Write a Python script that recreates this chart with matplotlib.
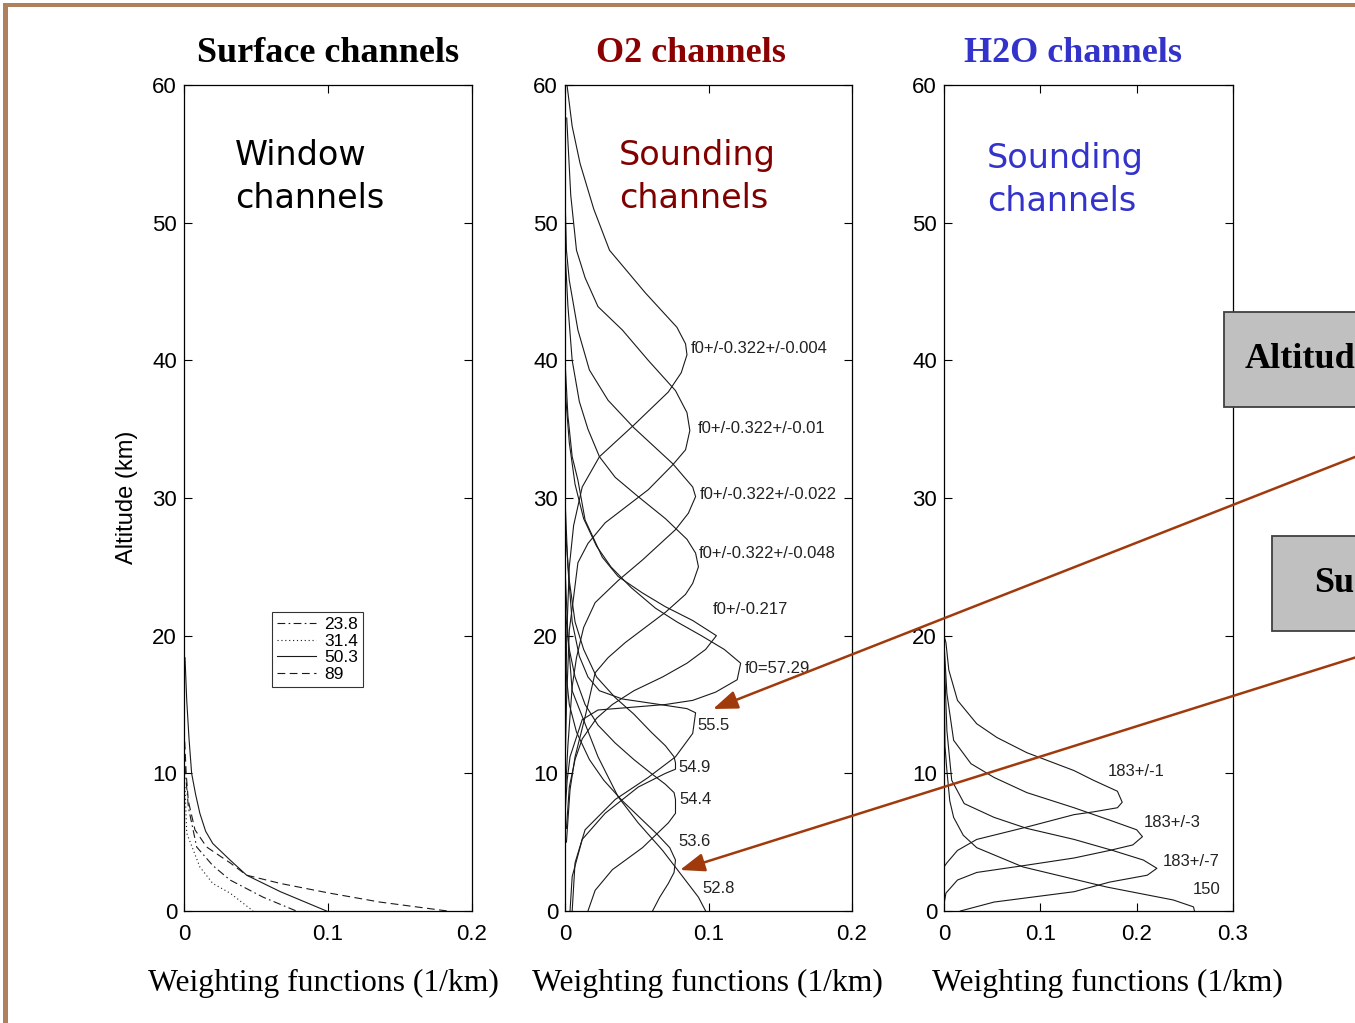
import matplotlib
matplotlib.use('Agg')
import matplotlib.pyplot as plt
from matplotlib.patches import Rectangle, FancyArrowPatch
from matplotlib.lines import Line2D

plt.rcParams['font.family'] = ['Liberation Sans', 'DejaVu Sans']

# ---------------- data ----------------
# Panel 1: surface (window) channels
surf_labels = ['23.8', '31.4', '50.3', '89']
surf_styles = [(0, (7, 3, 1.5, 3)), (0, (1, 2.5)), '-', (0, (7, 4))]
z_238 = [10.5, 7.55, 4.65, 3.3, 2.25, 1.0, 0.0]
w_238 = [0.0007, 0.003, 0.0088, 0.020, 0.032, 0.055, 0.078]
z_314 = [9.0, 5.65, 3.2, 2.0, 1.3, 0.0]
w_314 = [0.0007, 0.0019, 0.011, 0.020, 0.032, 0.048]
z_503 = [18.4, 15.3, 12.5, 10.0, 8.5, 7.1, 5.8, 4.9, 3.7, 2.6, 1.4, 0.0]
w_503 = [0.0007, 0.0019, 0.0035, 0.0053, 0.008, 0.011, 0.015, 0.020, 0.032, 0.0435, 0.067, 0.099]
z_89 = [12.3, 10.0, 8.0, 5.9, 4.65, 3.5, 2.6, 2.0, 1.3, 0.65, 0.0]
w_89 = [0.0005, 0.0015, 0.003, 0.0076, 0.0157, 0.032, 0.0435, 0.067, 0.101, 0.136, 0.183]

# Panel 2: O2 sounding channels
o2_labels = ['f0+/-0.322+/-0.004', 'f0+/-0.322+/-0.01', 'f0+/-0.322+/-0.022',
             'f0+/-0.322+/-0.048', 'f0+/-0.217', 'f0=57.29', '55.5', '54.9',
             '54.4', '53.6', '52.8']
o2_label_x = [0.0874, 0.0923, 0.0937, 0.0930, 0.1028, 0.1252, 0.0923, 0.0790, 0.0797, 0.0790, 0.0958]
o2_label_z = [40.87, 35.03, 30.24, 25.95, 21.9, 17.63, 13.49, 10.46, 8.13, 5.08, 1.6]

z_f004 = [60, 57, 54.3, 51, 48, 44.9, 42.4, 41.2, 40.4, 39.1, 37.7, 35.3, 33, 30.8, 28, 25, 20, 14, 9]
w_f004 = [0.0014, 0.005, 0.0105, 0.020, 0.031, 0.056, 0.078, 0.084, 0.085, 0.081, 0.072, 0.048,
          0.024, 0.012, 0.006, 0.003, 0.0012, 0.0004, 0.0]
z_f010 = [57.6, 52, 48, 46, 43.9, 42.2, 40, 37.8, 36.2, 34.9, 33.5, 32.4, 30.6, 28.2, 26.7, 25.3,
          22.8, 20.4, 15, 10]
w_f010 = [0.0012, 0.004, 0.008, 0.014, 0.023, 0.040, 0.058, 0.077, 0.085, 0.087, 0.084, 0.075,
          0.058, 0.028, 0.016, 0.009, 0.006, 0.003, 0.001, 0.0]
z_f022 = [52, 48, 45.8, 42.2, 39.3, 37.1, 35.1, 32.5, 30.8, 30.1, 28.9, 27.7, 25.5, 24.0, 22.4,
          20.6, 18.4, 16.3, 12, 8]
w_f022 = [0.0, 0.001, 0.003, 0.009, 0.017, 0.030, 0.048, 0.075, 0.089, 0.091, 0.086, 0.077,
          0.054, 0.037, 0.021, 0.013, 0.008, 0.005, 0.002, 0.0]
z_f048 = [48, 44, 40, 37, 35, 33, 31.5, 30.1, 28.5, 27, 26, 25.0, 23.8, 23.0, 21.7, 19.5, 18.4,
          17.3, 14.1, 11.2, 8.8, 5]
w_f048 = [0.0, 0.002, 0.005, 0.010, 0.016, 0.024, 0.035, 0.051, 0.070, 0.085, 0.091, 0.093,
          0.089, 0.084, 0.070, 0.042, 0.030, 0.021, 0.014, 0.007, 0.0035, 0.001]
z_f217 = [40, 36, 33, 31.3, 28.4, 25.7, 24.3, 23.1, 22.1, 21.1, 20.0, 19.0, 18.0, 17.0, 16.0,
          15.0, 14.0, 12.5, 11.0, 9.0, 6.0]
w_f217 = [0.0, 0.002, 0.005, 0.009, 0.014, 0.026, 0.037, 0.054, 0.070, 0.089, 0.1055, 0.098,
          0.085, 0.068, 0.048, 0.033, 0.022, 0.012, 0.007, 0.003, 0.001]
z_f5729 = [38, 34, 31, 28.5, 26.5, 25, 23.5, 22, 21, 20, 19, 18.0, 16.8, 15.9, 15.3, 15.0, 14.6,
           13.9, 11.2, 9.5, 7]
w_f5729 = [0.0, 0.003, 0.007, 0.013, 0.022, 0.032, 0.046, 0.063, 0.078, 0.095, 0.111, 0.1224,
           0.120, 0.105, 0.089, 0.070, 0.023, 0.012, 0.0035, 0.0015, 0.0]
z_f555 = [30, 25, 21, 18.5, 17, 16, 15.4, 15.0, 14.7, 14.4, 12.9, 11.2, 9.7, 8.1, 5.9, 3.5, 0]
w_f555 = [0.0, 0.002, 0.005, 0.010, 0.016, 0.024, 0.040, 0.066, 0.085, 0.091, 0.089, 0.077,
          0.058, 0.035, 0.014, 0.007, 0.005]
z_f549 = [28, 24, 21, 19, 17, 15.5, 14.3, 13.0, 12.0, 11.2, 10.75, 10.3, 10.0, 9.0, 7.1, 5.2, 2.5, 0]
w_f549 = [0.0, 0.003, 0.007, 0.013, 0.022, 0.035, 0.048, 0.060, 0.070, 0.076, 0.077, 0.077,
          0.070, 0.051, 0.028, 0.012, 0.005, 0.0035]
z_f544 = [22, 19, 17, 15, 13.5, 12.2, 11, 10, 9.2, 8.6, 8.1, 7.1, 6.4, 4.6, 3.0, 1.5, 0]
w_f544 = [0.0, 0.003, 0.007, 0.014, 0.023, 0.035, 0.048, 0.060, 0.070, 0.076, 0.077, 0.077,
          0.072, 0.054, 0.033, 0.021, 0.016]
z_f536 = [18, 15, 13, 11, 9.5, 8, 6.8, 5.6, 4.6, 3.7, 2.8, 2.0, 1.0, 0]
w_f536 = [0.0, 0.003, 0.008, 0.017, 0.027, 0.040, 0.052, 0.064, 0.073, 0.077, 0.076, 0.072,
          0.066, 0.061]
z_f528 = [25, 20, 16, 13.6, 11.2, 8.3, 6.4, 4.4, 2.5, 1.0, 0]
w_f528 = [0.0, 0.002, 0.005, 0.014, 0.023, 0.037, 0.051, 0.068, 0.082, 0.093, 0.098]

# Panel 3: H2O channels
h2o_labels = ['183+/-1', '183+/-3', '183+/-7', '150']
h2o_label_x = [0.170, 0.207, 0.227, 0.258]
h2o_label_z = [10.1, 6.46, 3.56, 1.53]
z_h1 = [20, 19.5, 17.5, 15.3, 13.6, 12.6, 11.5, 10.2, 9.5, 8.7, 7.9, 7.5, 7.2, 7.0, 6.1, 5.2, 4.4, 3.5, 3.2]
w_h1 = [0.0, 0.002, 0.005, 0.014, 0.034, 0.055, 0.086, 0.135, 0.155, 0.180, 0.185, 0.180, 0.155,
        0.135, 0.086, 0.034, 0.014, 0.003, 0.0]
z_h3 = [19.5, 15.8, 12.4, 10.7, 9.7, 8.6, 7.5, 6.6, 5.9, 5.4, 4.8, 4.4, 3.85, 3.3, 2.8, 2.25, 1.3, 0.5]
w_h3 = [0.0, 0.003, 0.010, 0.028, 0.052, 0.086, 0.135, 0.172, 0.200, 0.206, 0.196, 0.172, 0.135,
        0.083, 0.034, 0.014, 0.002, 0.0]
z_h7 = [19, 13.1, 9.5, 7.8, 6.8, 6.0, 5.2, 4.4, 3.7, 3.1, 2.6, 2.1, 1.4, 0.65, 0.0]
w_h7 = [0.0, 0.003, 0.008, 0.021, 0.052, 0.086, 0.135, 0.175, 0.207, 0.221, 0.211, 0.172, 0.135,
        0.052, 0.017]
z_h150 = [18.5, 12, 10.2, 8, 6.8, 5.5, 4.6, 3.2, 1.74, 0.8, 0.3, 0.0]
w_h150 = [0.0, 0.001, 0.003, 0.006, 0.010, 0.020, 0.034, 0.082, 0.169, 0.238, 0.259, 0.260]

# ---------------- figure ----------------
W, H = 1355, 1023
fig = plt.figure(figsize=(W / 100, H / 100), dpi=100)
fig.patch.set_facecolor('white')

def ax_rect(l, r, t=85, b=911):
    return [l / W, 1 - b / H, (r - l) / W, (b - t) / H]

def style(ax, xmax, xticks, xlabels):
    ax.set_xlim(0, xmax)
    ax.set_ylim(0, 60)
    ax.set_xticks(xticks)
    ax.set_xticklabels(xlabels)
    ax.set_yticks(range(0, 61, 10))
    ax.tick_params(direction='in', length=6, width=0.8, top=True, right=True, labelsize=16)
    ax.tick_params(axis='x', pad=9)
    ax.tick_params(axis='y', pad=5)
    for s in ax.spines.values():
        s.set_linewidth(0.9)

LC = '#1a1a1a'
LW = 0.8

ax1 = fig.add_axes(ax_rect(184, 472))
ax2 = fig.add_axes(ax_rect(565, 852))
ax3 = fig.add_axes(ax_rect(944, 1233))
style(ax1, 0.2, [0, 0.1, 0.2], ['0', '0.1', '0.2'])
style(ax2, 0.2, [0, 0.1, 0.2], ['0', '0.1', '0.2'])
style(ax3, 0.3, [0, 0.1, 0.2, 0.3], ['0', '0.1', '0.2', '0.3'])

# panel 1
surf_w = [w_238, w_314, w_503, w_89]
surf_z = [z_238, z_314, z_503, z_89]
handles = []
for w, z, ls, lab in zip(surf_w, surf_z, surf_styles, surf_labels):
    ax1.plot(w, z, linestyle=ls, color=LC, lw=LW, label=lab)
    handles.append(Line2D([], [], linestyle=ls, color=LC, lw=LW))
leg = ax1.legend(handles, surf_labels, loc='upper left', bbox_to_anchor=(0.306, 0.362),
                 frameon=True, fancybox=False, edgecolor='black', fontsize=12.5,
                 handlelength=2.2, borderpad=0.3, labelspacing=0.08, handletextpad=0.5,
                 borderaxespad=0)
leg.get_frame().set_linewidth(0.8)

# panel 2
o2_w = [w_f004, w_f010, w_f022, w_f048, w_f217, w_f5729, w_f555, w_f549, w_f544, w_f536, w_f528]
o2_z = [z_f004, z_f010, z_f022, z_f048, z_f217, z_f5729, z_f555, z_f549, z_f544, z_f536, z_f528]
for w, z in zip(o2_w, o2_z):
    ax2.plot(w, z, '-', color=LC, lw=LW)
for x, z, lab in zip(o2_label_x, o2_label_z, o2_labels):
    ax2.text(x, z, lab, fontsize=12, ha='left', va='center', color='#222222')

# panel 3
h2o_w = [w_h1, w_h3, w_h7, w_h150]
h2o_z = [z_h1, z_h3, z_h7, z_h150]
for w, z in zip(h2o_w, h2o_z):
    ax3.plot(w, z, '-', color=LC, lw=LW)
for x, z, lab in zip(h2o_label_x, h2o_label_z, h2o_labels):
    ax3.text(x, z, lab, fontsize=12, ha='left', va='center', color='#222222')

# titles / labels
serif = ['Liberation Serif', 'DejaVu Serif']
fig.text(328 / W, 1 - 53 / H, 'Surface channels', ha='center', va='center', fontsize=26,
         weight='bold', family=serif, color='black')
fig.text(691 / W, 1 - 53 / H, 'O2 channels', ha='center', va='center', fontsize=26,
         weight='bold', family=serif, color='#8B0000')
fig.text(1073 / W, 1 - 53 / H, 'H2O channels', ha='center', va='center', fontsize=26,
         weight='bold', family=serif, color='#3333CC')
for cx in [323, 707, 1107]:
    fig.text(cx / W, 1 - 983 / H, 'Weighting functions (1/km)', ha='center', va='center',
             fontsize=22.8, family=serif)
fig.text(127 / W, 1 - 497 / H, 'Altitude (km)', rotation=90, ha='center', va='center', fontsize=17)

sans = ['DejaVu Sans']
fig.text(235 / W, 1 - 139 / H, 'Window\nchannels', ha='left', va='top', fontsize=24,
         family=sans, color='black', linespacing=1.38)
fig.text(619 / W, 1 - 139 / H, 'Sounding\nchannels', ha='left', va='top', fontsize=24,
         family=sans, color='#800000', linespacing=1.38)
fig.text(987 / W, 1 - 142 / H, 'Sounding\nchannels', ha='left', va='top', fontsize=24,
         family=sans, color='#3333CC', linespacing=1.38)

# overlay: border, boxes, arrows
ov = fig.add_axes([0, 0, 1, 1], zorder=10)
ov.set_xlim(0, W)
ov.set_ylim(H, 0)
ov.axis('off')
brown = '#B0805E'
ov.add_patch(Rectangle((3, 3), W, 4, facecolor=brown, edgecolor='none'))
ov.add_patch(Rectangle((3, 3), 5, H, facecolor=brown, edgecolor='none'))
ov.add_patch(Rectangle((1224, 312), 300, 95, facecolor='#C0C0C0', edgecolor='#404040', lw=1.3))
ov.add_patch(Rectangle((1272, 536), 300, 95, facecolor='#C0C0C0', edgecolor='#404040', lw=1.3))
ov.text(1245, 360, 'Altitude', fontsize=26, weight='bold', family=serif, va='center', ha='left',
        clip_on=True)
ov.text(1314, 584, 'Surface', fontsize=26, weight='bold', family=serif, va='center', ha='left',
        clip_on=True)

acol = '#A03A0C'
for start, end in [((1360, 455), (713, 709)), ((1360, 656), (680, 870))]:
    ov.add_patch(FancyArrowPatch(start, end, arrowstyle='-|>,head_length=0.75,head_width=0.28',
                                 mutation_scale=20, lw=1.8, color=acol, shrinkA=0, shrinkB=0))

fig.savefig('out.png', dpi=100, facecolor='white')
